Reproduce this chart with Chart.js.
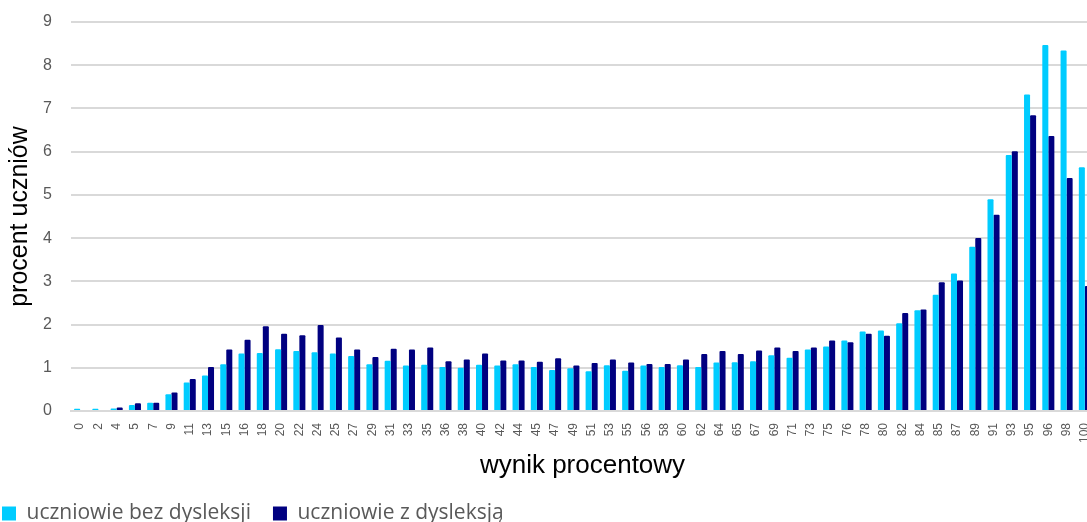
<!DOCTYPE html>
<html>
<head>
<meta charset="utf-8">
<script src="https://cdn.jsdelivr.net/npm/chart.js@4"></script>
<style>
  html, body { margin: 0; padding: 0; overflow: hidden; background: #fff; }
  #wrap { width: 1100px; height: 522px; }
</style>
</head>
<body>
<div id="wrap"><canvas id="myChart"></canvas></div>
<script>
const labels = ['0','2','4','5','7','9','11','13','15','16','18','20','22','24','25','27','29','31','33','35','36','38','40','42','44','45','47','49','51','53','55','56','58','60','62','64','65','67','69','71','73','75','76','78','80','82','84','85','87','89','91','93','95','96','98','100'];

// uczniowie bez dysleksji
const bezDysleksji = [0.05,0.05,0.06,0.14,0.19,0.39,0.66,0.82,1.08,1.33,1.34,1.43,1.39,1.36,1.33,1.27,1.08,1.16,1.05,1.07,1.02,1.00,1.07,1.05,1.08,1.02,0.95,0.99,0.92,1.06,0.93,1.05,1.02,1.06,1.02,1.12,1.13,1.15,1.29,1.23,1.42,1.49,1.63,1.84,1.86,2.03,2.33,2.69,3.18,3.80,4.90,5.92,7.32,8.47,8.34,5.64];

// uczniowie z dysleksją
const zDysleksja = [0.00,0.00,0.08,0.18,0.19,0.43,0.74,1.02,1.42,1.65,1.96,1.79,1.75,1.99,1.70,1.42,1.25,1.44,1.42,1.47,1.15,1.19,1.33,1.17,1.17,1.14,1.22,1.05,1.11,1.19,1.12,1.09,1.09,1.19,1.32,1.39,1.32,1.40,1.47,1.39,1.47,1.63,1.59,1.79,1.74,2.27,2.35,2.98,3.02,4.00,4.54,6.01,6.84,6.36,5.39,2.89];

const yTicks = [0,1,2,3,4,5,6,7,8,9];

window.onload = () => {
    const ctx = document.getElementById('myChart').getContext('2d');
    new Chart(ctx, {
        type: 'bar',
        data: {
            labels: labels,
            datasets: [
                {
                    label: 'uczniowie bez dysleksji',
                    data: bezDysleksji,
                    backgroundColor: '#00CCFF',
                    borderRadius: 1
                },
                {
                    label: 'uczniowie z dysleksją',
                    data: zDysleksja,
                    backgroundColor: '#000080',
                    borderRadius: 1
                }
            ]
        },
        options: {
            responsive: true,
            maintainAspectRatio: false,
            animation: false,
            datasets: {
                bar: { categoryPercentage: 0.66, barPercentage: 1.0 }
            },
            // negative left/bottom padding pushes the legend to the canvas edge
            layout: {
                padding: { left: -20, right: 6, top: 22, bottom: -12 }
            },
            plugins: {
                legend: {
                    position: 'bottom',
                    align: 'start',
                    labels: {
                        boxWidth: 14,
                        boxHeight: 14,
                        padding: 22,
                        color: '#595959',
                        font: { family: '"Open Sans"', size: 21 }
                    }
                },
                tooltip: { enabled: false }
            },
            scales: {
                x: {
                    grid: { display: false },
                    border: { color: '#d9d9d9', width: 2 },
                    ticks: {
                        autoSkip: false,
                        minRotation: 90,
                        maxRotation: 90,
                        padding: 4,
                        color: '#595959',
                        font: { family: '"Liberation Sans"', size: 12 }
                    },
                    title: {
                        display: true,
                        text: 'wynik procentowy',
                        color: '#000',
                        font: { family: '"Liberation Sans"', size: 26 },
                        padding: { top: 0, bottom: 0 }
                    },
                    afterFit: (scale) => {
                        scale.height = 70;
                        scale.paddingLeft = 0;
                        scale.paddingRight = 0;
                    }
                },
                y: {
                    min: 0,
                    max: 9,
                    afterBuildTicks: (scale) => { scale.ticks = yTicks.map(v => ({ value: v })); },
                    grid: { color: '#d9d9d9', lineWidth: 2, drawTicks: false },
                    border: { display: false },
                    ticks: {
                        padding: 19,
                        color: '#595959',
                        font: { family: '"Liberation Sans"', size: 16 }
                    },
                    title: {
                        display: true,
                        text: 'procent uczniów',
                        color: '#000',
                        font: { family: '"Liberation Sans"', size: 25 },
                        padding: { top: 25, bottom: 0 }
                    },
                    afterFit: (scale) => {
                        scale.width = 91;
                        scale.paddingTop = 0;
                        scale.paddingBottom = 0;
                    }
                }
            }
        }
    });
};
</script>
</body>
</html>
